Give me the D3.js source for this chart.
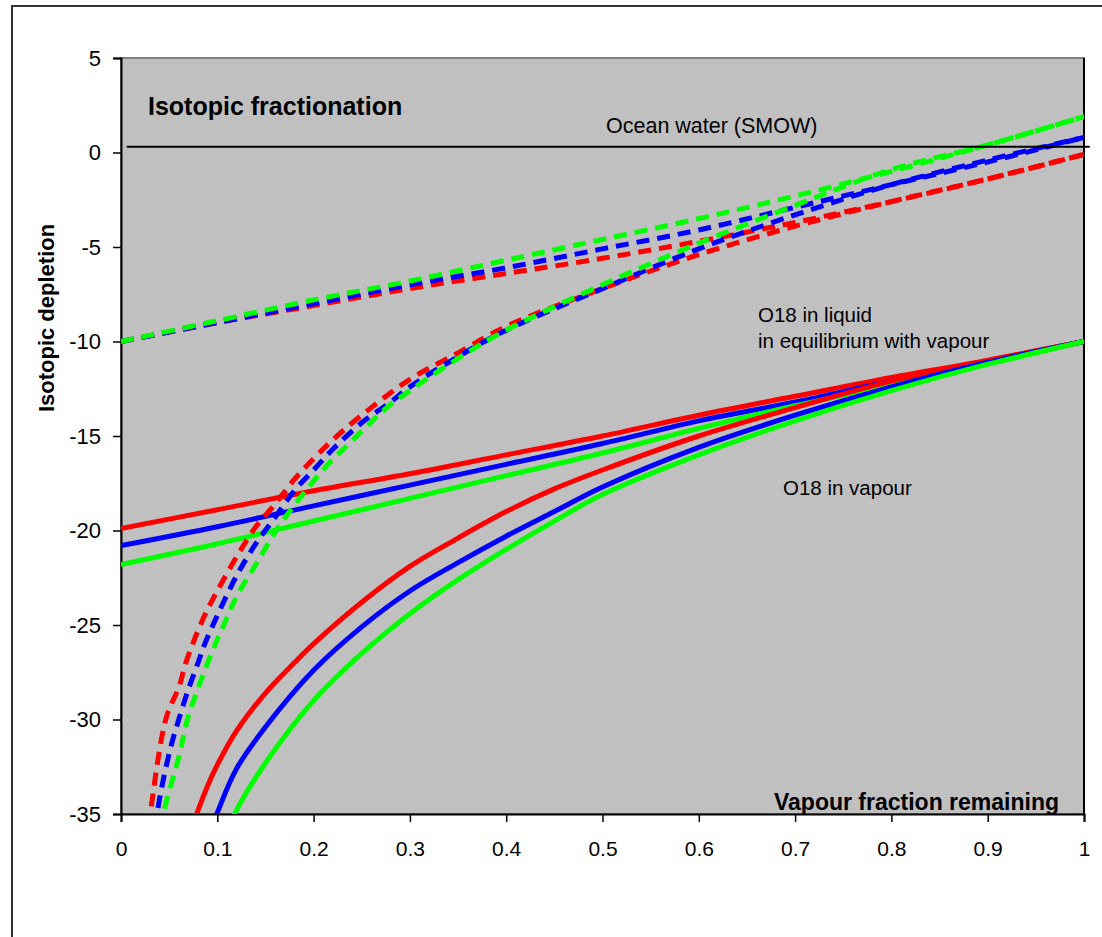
<!DOCTYPE html>
<html>
<head>
<meta charset="utf-8">
<title>Isotopic fractionation</title>
<script src="https://d3js.org/d3.v7.min.js"></script>
<style>
  body { margin: 0; background: #fff; }
  text { font-family: Arial, "Liberation Sans", sans-serif; fill: #000; }
</style>
</head>
<body>
<svg width="1102" height="937"></svg>
<script>

// x values (vapour fraction remaining) for the flatter curves
var fracFlat = [0, 0.1, 0.2, 0.3, 0.4, 0.5, 0.6, 0.7, 0.8, 0.9, 1];

// solid, flatter curves (start near -20 at f=0)
var liqRed   = [-19.9, -18.9, -17.9, -17.0, -16.0, -15.0, -13.9, -12.9, -11.9, -11.0, -10];
var liqBlue  = [-20.8, -19.8, -18.7, -17.6, -16.5, -15.4, -14.2, -13.2, -12.1, -11.1, -10];
var liqGreen = [-21.8, -20.7, -19.5, -18.3, -17.1, -15.9, -14.6, -13.4, -12.3, -11.2, -10];

// dashed, flatter curves (start at -10 at f=0)
var dashFlatRed   = [-10, -9.0, -8.1, -7.2, -6.4, -5.6, -4.7, -3.7, -2.6, -1.4, -0.1];
var dashFlatBlue  = [-10, -9.0, -8.0, -7.0, -6.1, -5.1, -4.1, -2.9, -1.7, -0.5, 0.8];
var dashFlatGreen = [-10, -8.9, -7.8, -6.8, -5.7, -4.6, -3.5, -2.3, -1.0, 0.4, 1.9];

// solid, steep curves (O18 in vapour)
var vapRedX   = [0.06, 0.0786, 0.09, 0.1, 0.12, 0.15, 0.18, 0.2, 0.25, 0.3, 0.35, 0.4, 0.45, 0.5, 0.6, 0.7, 0.8, 0.9, 1];
var vapRed    = [-37.8, -35.0, -33.5, -32.4, -30.6, -28.6, -27.0, -26.0, -23.8, -21.9, -20.4, -19.0, -17.8, -16.8, -15.0, -13.5, -12.1, -11.0, -10];
var vapBlueX  = [0.08, 0.0994, 0.12, 0.15, 0.2, 0.25, 0.3, 0.35, 0.4, 0.45, 0.5, 0.6, 0.7, 0.8, 0.9, 1];
var vapBlue   = [-37.5, -35.0, -32.6, -30.4, -27.4, -25.1, -23.2, -21.7, -20.3, -19.0, -17.7, -15.6, -13.9, -12.4, -11.1, -10];
var vapGreenX = [0.1, 0.118, 0.15, 0.2, 0.25, 0.3, 0.35, 0.4, 0.45, 0.5, 0.6, 0.7, 0.8, 0.9, 1];
var vapGreen  = [-37.4, -35.0, -32.3, -29.0, -26.5, -24.4, -22.6, -21.0, -19.5, -18.1, -16.0, -14.2, -12.6, -11.2, -10];

// dashed, steep curves
var dashSteepRedX   = [0.02, 0.03, 0.047, 0.06, 0.068, 0.085, 0.1, 0.12, 0.14, 0.16, 0.18, 0.2, 0.22, 0.25, 0.3, 0.35, 0.4, 0.5, 0.6, 0.7, 0.8, 0.9, 1];
var dashSteepRed    = [-39, -35.1, -29.9, -28.3, -26.9, -24.7, -23.2, -21.4, -19.8, -18.6, -17.3, -16.2, -15.2, -13.9, -12.0, -10.6, -9.2, -7.2, -5.4, -3.9, -2.6, -1.4, -0.1];
var dashSteepBlueX  = [0.03, 0.039, 0.051, 0.06, 0.07, 0.08, 0.087, 0.1, 0.12, 0.14, 0.16, 0.18, 0.2, 0.22, 0.25, 0.28, 0.3, 0.35, 0.4, 0.5, 0.6, 0.7, 0.8, 0.9, 1];
var dashSteepBlue   = [-38, -34.5, -31.6, -30.0, -28.4, -27.0, -26.0, -24.5, -22.4, -20.7, -19.3, -17.9, -16.8, -15.7, -14.3, -13.2, -12.4, -10.8, -9.4, -7.2, -5.1, -3.3, -1.7, -0.4, 0.8];
var dashSteepGreenX = [0.035, 0.044, 0.061, 0.069, 0.079, 0.087, 0.098, 0.105, 0.12, 0.14, 0.16, 0.175, 0.195, 0.215, 0.235, 0.255, 0.276, 0.3, 0.35, 0.4, 0.5, 0.6, 0.7, 0.8, 0.9, 1];
var dashSteepGreen  = [-38, -35.0, -31.8, -30.0, -28.5, -27.4, -26.0, -25.2, -23.5, -21.8, -20.1, -19.0, -17.7, -16.5, -15.5, -14.5, -13.5, -12.6, -10.9, -9.4, -7.0, -4.8, -2.8, -0.9, 0.4, 1.9];

// horizontal "Ocean water (SMOW)" line
var smowX = [0.006, 1.006];
var smowY = [0.3, 0.3];

// tick labels
var xTicks = [0, 0.1, 0.2, 0.3, 0.4, 0.5, 0.6, 0.7, 0.8, 0.9, 1];
var yTicks = [5, 0, -5, -10, -15, -20, -25, -30, -35];

var svg = d3.select("svg");
var plotLeft = 121, plotTop = 58, plotRight = 1084, plotBottom = 814;

var x = d3.scaleLinear().domain([0, 1]).range([plotLeft, plotRight]);
var y = d3.scaleLinear().domain([-35, 5]).range([plotBottom, plotTop]);

// outer chart border (right and bottom fall outside the picture)
svg.append("rect")
  .attr("x", 12).attr("y", 6).attr("width", 1110).attr("height", 960)
  .attr("fill", "none").attr("stroke", "#333").attr("stroke-width", 2);

// plot area
svg.append("rect")
  .attr("x", plotLeft).attr("y", plotTop)
  .attr("width", plotRight - plotLeft).attr("height", plotBottom - plotTop)
  .attr("fill", "#c0c0c0").attr("stroke", "#808080").attr("stroke-width", 2);

svg.append("clipPath").attr("id", "plot")
  .append("rect")
  .attr("x", plotLeft).attr("y", plotTop)
  .attr("width", plotRight - plotLeft).attr("height", plotBottom - plotTop);

// axes
var xAxis = svg.append("g")
  .attr("transform", "translate(0," + plotBottom + ")")
  .call(d3.axisBottom(x).tickValues(xTicks).tickSize(8).tickPadding(19).tickFormat(d3.format("")));
var yAxis = svg.append("g")
  .attr("transform", "translate(" + plotLeft + ",0)")
  .call(d3.axisLeft(y).tickValues(yTicks).tickSize(8).tickPadding(12));

[xAxis, yAxis].forEach(function(g) {
  g.select(".domain").attr("stroke", "#000").attr("stroke-width", 2);
  g.selectAll(".tick line").attr("stroke", "#000").attr("stroke-width", 1.5);
  g.selectAll(".tick text").attr("fill", "#000")
    .attr("font-family", "Arial, 'Liberation Sans', sans-serif");
});
xAxis.selectAll(".tick text").attr("font-size", 21);
yAxis.selectAll(".tick text").attr("font-size", 22).text(function(d) { return d; });

// right edge of plot in black
svg.append("line")
  .attr("x1", plotRight).attr("x2", plotRight).attr("y1", plotTop).attr("y2", plotBottom)
  .attr("stroke", "#000").attr("stroke-width", 2);

var line = d3.line()
  .x(function(d) { return x(d[0]); })
  .y(function(d) { return y(d[1]); })
  .curve(d3.curveCatmullRom.alpha(0.5));

function pairs(xs, ys) { return xs.map(function(v, i) { return [v, ys[i]]; }); }

var series = [
  { xs: fracFlat, ys: liqRed, color: "#ff0000", dash: null },
  { xs: fracFlat, ys: liqBlue, color: "#0000ff", dash: null },
  { xs: fracFlat, ys: liqGreen, color: "#00ff00", dash: null },
  { xs: vapRedX, ys: vapRed, color: "#ff0000", dash: null },
  { xs: vapBlueX, ys: vapBlue, color: "#0000ff", dash: null },
  { xs: vapGreenX, ys: vapGreen, color: "#00ff00", dash: null },
  { xs: fracFlat, ys: dashFlatRed, color: "#ff0000", dash: "13,8" },
  { xs: fracFlat, ys: dashFlatBlue, color: "#0000ff", dash: "13,8" },
  { xs: fracFlat, ys: dashFlatGreen, color: "#00ff00", dash: "13,8" },
  { xs: dashSteepRedX, ys: dashSteepRed, color: "#ff0000", dash: "13,8" },
  { xs: dashSteepBlueX, ys: dashSteepBlue, color: "#0000ff", dash: "13,8" },
  { xs: dashSteepGreenX, ys: dashSteepGreen, color: "#00ff00", dash: "13,8" }
];

var plot = svg.append("g").attr("clip-path", "url(#plot)");
plot.selectAll("path.series")
  .data(series)
  .enter().append("path")
  .attr("class", "series")
  .attr("d", function(s) { return line(pairs(s.xs, s.ys)); })
  .attr("fill", "none")
  .attr("stroke", function(s) { return s.color; })
  .attr("stroke-width", 5)
  .attr("stroke-dasharray", function(s) { return s.dash; });

// SMOW reference line (runs slightly past the plot's right edge)
svg.append("path")
  .attr("d", line.curve(d3.curveLinear)(pairs(smowX, smowY)))
  .attr("fill", "none").attr("stroke", "#000").attr("stroke-width", 2);

// texts
svg.append("text").attr("x", 148).attr("y", 115)
  .attr("font-size", 25).attr("font-weight", "bold").text("Isotopic fractionation");
svg.append("text").attr("x", 606).attr("y", 133)
  .attr("font-size", 21.5).text("Ocean water (SMOW)");
svg.append("text").attr("x", 758).attr("y", 322)
  .attr("font-size", 20.5).text("O18 in liquid");
svg.append("text").attr("x", 758).attr("y", 348)
  .attr("font-size", 20.5).text("in equilibrium with vapour");
svg.append("text").attr("x", 783).attr("y", 495)
  .attr("font-size", 20.5).text("O18 in vapour");
svg.append("text").attr("x", 1059).attr("y", 810).attr("text-anchor", "end")
  .attr("font-size", 23).attr("font-weight", "bold").text("Vapour fraction remaining");
svg.append("text").attr("transform", "translate(54,318) rotate(-90)").attr("text-anchor", "middle")
  .attr("font-size", 22).attr("font-weight", "bold").text("Isotopic depletion");

</script>
</body>
</html>
